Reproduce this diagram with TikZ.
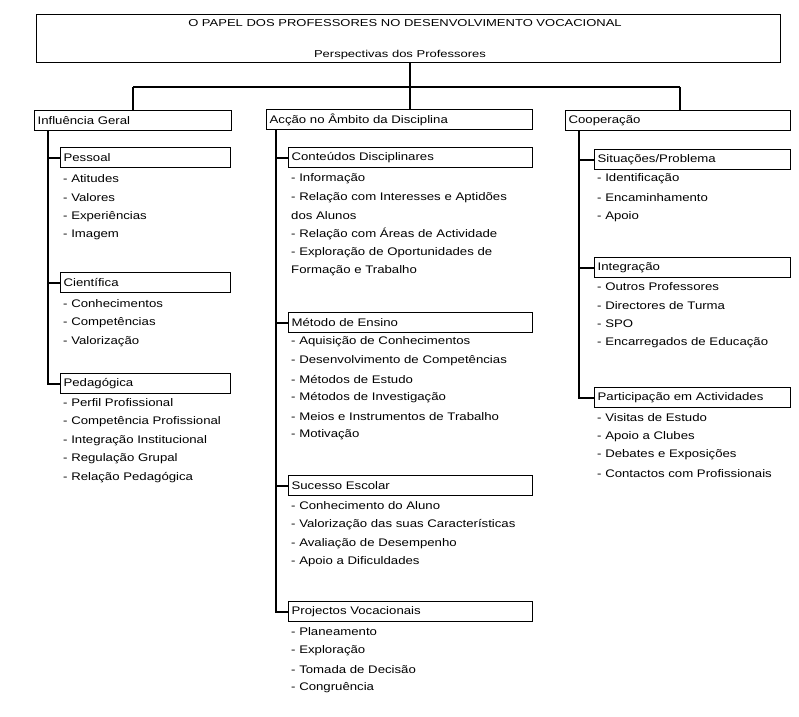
\documentclass[tikz,border=0pt]{standalone}
\usepackage{fontspec}
\setmainfont{Liberation Sans}[FakeStretch=1.2]
\newfontfamily\titulofont{Liberation Sans}[FakeStretch=1.3]

\tikzset{
    caixa/.style={draw, line width=1.2pt, anchor=north west, minimum height=20pt,
        inner xsep=3pt, inner ysep=0pt, align=left, font=\fontsize{11}{13}\selectfont},
    item/.style={anchor=west, inner sep=0pt, font=\fontsize{11}{13}\selectfont},
    titulo/.style={inner sep=0pt, font=\titulofont\fontsize{10}{12}\selectfont},
    ligacao/.style={line width=1.8pt},
}

\begin{document}
\begin{tikzpicture}[x=1pt, y=-1pt]
            \useasboundingbox (0, 0) rectangle (799, 716);

            % titulo
            \node[draw, line width=1.2pt, anchor=north west, minimum width=744pt, minimum height=48pt,
                inner sep=0pt] (topo) at (36, 14) {};
            \node[titulo] (tit) at (405, 23) {O PAPEL DOS PROFESSORES NO DESENVOLVIMENTO VOCACIONAL};
            \node[titulo] (subtit) at (400, 55) {Perspectivas dos Professores};

            % primeiro nivel
            \node[caixa, text width=191pt] (infl) at (34, 110) {Influência Geral};
            \node[caixa, text width=260pt] (accao) at (266, 109) {Acção no Âmbito da Disciplina};
            \node[caixa, text width=219pt] (coop) at (565, 110) {Cooperação};

            \coordinate (ja) at (133, 87);
            \coordinate (jb) at (410, 87);
            \coordinate (jc) at (680, 87);
            \draw[ligacao] (topo.south -| jb) -- (accao.north -| jb);
            \draw[ligacao] (ja) -- (jc);
            \draw[ligacao] (ja) -- (infl.north -| ja);
            \draw[ligacao] (jc) -- (coop.north -| jc);

            % coluna 1
            \node[caixa, text width=164pt] (pess) at (60, 147) {Pessoal};
            \node[caixa, text width=164pt] (cien) at (60, 272) {Científica};
            \node[caixa, text width=164pt] (peda) at (60, 373) {Pedagógica};

            \foreach \t [count=\i] in {- Atitudes, - Valores, - Experiências, - Imagem} {
                \node[item] (pess-\i) at (63, {179 + 18.6 * (\i - 1)}) {\t};
            }
            \foreach \t [count=\i] in {- Conhecimentos, - Competências, - Valorização} {
                \node[item] (cien-\i) at (63, {304 + 18.6 * (\i - 1)}) {\t};
            }
            \foreach \t [count=\i] in {- Perfil Profissional, - Competência Profissional,
                    - Integração Institucional, - Regulação Grupal, - Relação Pedagógica} {
                \node[item] (peda-\i) at (63, {403 + 18.6 * (\i - 1)}) {\t};
            }

            \coordinate (e1) at (48, 0);
            \draw[ligacao] (infl.south -| e1) |- (peda.west);
            \draw[ligacao] (pess.west -| e1) -- (pess.west);
            \draw[ligacao] (cien.west -| e1) -- (cien.west);

            % coluna 2
            \node[caixa, text width=238pt] (cont) at (288, 147) {Conteúdos Disciplinares};
            \node[caixa, text width=238pt] (meto) at (288, 312) {Método de Ensino};
            \node[caixa, text width=238pt] (suce) at (288, 475) {Sucesso Escolar};
            \node[caixa, text width=238pt] (proj) at (288, 601) {Projectos Vocacionais};

            \foreach \t [count=\i] in {- Informação, - Relação com Interesses e Aptidões, dos Alunos,
                    - Relação com Áreas de Actividade, - Exploração de Oportunidades de, Formação e Trabalho} {
                \node[item] (cont-\i) at (291, {179 + 18.4 * (\i - 1)}) {\t};
            }
            \foreach \t [count=\i] in {- Aquisição de Conhecimentos, - Desenvolvimento de Competências,
                    - Métodos de Estudo, - Métodos de Investigação, - Meios e Instrumentos de Trabalho, - Motivação} {
                \node[item] (meto-\i) at (291, {342 + 18.6 * (\i - 1)}) {\t};
            }
            \foreach \t [count=\i] in {- Conhecimento do Aluno, - Valorização das suas Características,
                    - Avaliação de Desempenho, - Apoio a Dificuldades} {
                \node[item] (suce-\i) at (291, {506 + 18.6 * (\i - 1)}) {\t};
            }
            \foreach \t [count=\i] in {- Planeamento, - Exploração, - Tomada de Decisão, - Congruência} {
                \node[item] (proj-\i) at (291, {632 + 18.6 * (\i - 1)}) {\t};
            }

            \coordinate (e2) at (276, 0);
            \draw[ligacao] (accao.south -| e2) |- (proj.west);
            \draw[ligacao] (cont.west -| e2) -- (cont.west);
            \draw[ligacao] (meto.west -| e2) -- (meto.west);
            \draw[ligacao] (suce.west -| e2) -- (suce.west);

            % coluna 3
            \node[caixa, text width=190pt] (situ) at (594, 149) {Situações/Problema};
            \node[caixa, text width=190pt] (inte) at (594, 257) {Integração};
            \node[caixa, text width=190pt] (part) at (594, 387) {Participação em Actividades};

            \foreach \t [count=\i] in {- Identificação, - Encaminhamento, - Apoio} {
                \node[item] (situ-\i) at (597, {179 + 18.6 * (\i - 1)}) {\t};
            }
            \foreach \t [count=\i] in {- Outros Professores, - Directores de Turma, - SPO, - Encarregados de Educação} {
                \node[item] (inte-\i) at (597, {287 + 18.6 * (\i - 1)}) {\t};
            }
            \foreach \t [count=\i] in {- Visitas de Estudo, - Apoio a Clubes, - Debates e Exposições,
                    - Contactos com Profissionais} {
                \node[item] (part-\i) at (597, {418 + 18.5 * (\i - 1)}) {\t};
            }

            \coordinate (e3) at (579, 0);
            \draw[ligacao] (coop.south -| e3) |- (part.west);
            \draw[ligacao] (situ.west -| e3) -- (situ.west);
            \draw[ligacao] (inte.west -| e3) -- (inte.west);
        \end{tikzpicture}
\end{document}
